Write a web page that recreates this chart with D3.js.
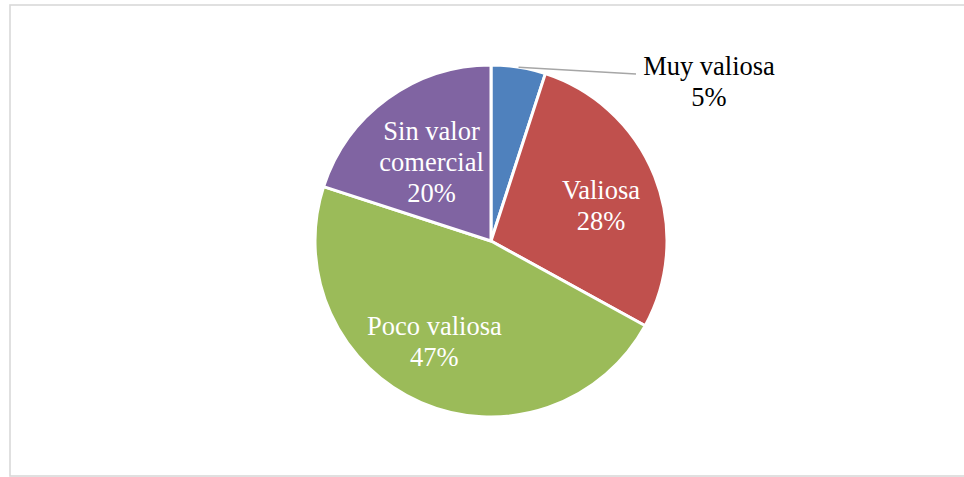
<!DOCTYPE html>
<html>
<head>
<meta charset="utf-8">
<script src="https://cdn.jsdelivr.net/npm/d3@7"></script>
<style>
  html, body { margin: 0; padding: 0; background: #ffffff; }
  svg { display: block; }
</style>
</head>
<body>
<svg id="chart" width="964" height="477"></svg>
<script>
// Share of items by commercial value
const categories = ["Muy valiosa", "Valiosa", "Poco valiosa", "Sin valor comercial"];
const percents = [5, 28, 47, 20];
const colors = ["#4F81BD", "#C0504D", "#9BBB59", "#8064A2"];
// label lines for each slice
const labelLines = [["Muy valiosa"], ["Valiosa"], ["Poco valiosa"], ["Sin valor", "comercial"]];

const svg = d3.select("#chart");
const cx = 491, cy = 241, R = 176;
const fontFamily = "'Liberation Serif', 'Times New Roman', serif";
const fontSize = 26.5;
const lineH = 31;

// chart area frame
svg.append("rect")
  .attr("x", 10).attr("y", 5)
  .attr("width", 980).attr("height", 471)
  .attr("fill", "#ffffff")
  .attr("stroke", "#d9d9d9")
  .attr("stroke-width", 1.6);

const data = categories.map((c, i) => ({ name: c, value: percents[i], color: colors[i], lines: labelLines[i] }));

const pie = d3.pie().sort(null).value(d => d.value);
const arcs = pie(data);
const arc = d3.arc().innerRadius(0).outerRadius(R);

const g = svg.append("g").attr("transform", `translate(${cx},${cy})`);

g.selectAll("path.slice")
  .data(arcs)
  .enter().append("path")
  .attr("class", "slice")
  .attr("d", arc)
  .attr("fill", d => d.data.color)
  .attr("stroke", "#ffffff")
  .attr("stroke-width", 3)
  .attr("stroke-linejoin", "round");

// inside-label placement: fraction of the radius and angular nudge (degrees) from the bisector
const labelRadius = [null, 0.657, 0.657, 0.56];
const labelNudge = [0, 3.6, 5.9, -1.1];

function drawLabel(x, y, lines, pct, fill) {
  const all = lines.concat([pct + "%"]);
  const t = svg.append("text")
    .attr("text-anchor", "middle")
    .attr("font-family", fontFamily)
    .attr("font-size", fontSize)
    .attr("fill", fill);
  const top = y - (all.length - 1) * lineH / 2;
  all.forEach((s, k) => {
    t.append("tspan").attr("x", x).attr("y", top + k * lineH + fontSize * 0.33).text(s);
  });
}

arcs.forEach((a, i) => {
  if (i === 0) return;
  const mid = (a.startAngle + a.endAngle) / 2 + labelNudge[i] * Math.PI / 180;
  const r = R * labelRadius[i];
  const x = cx + Math.sin(mid) * r;
  const y = cy - Math.cos(mid) * r;
  drawLabel(x, y, a.data.lines, a.data.value, "#ffffff");
});

// outside label with leader line for the small slice
{
  const a = arcs[0];
  const mid = (a.startAngle + a.endAngle) / 2;
  const sx = cx + Math.sin(mid) * R;
  const sy = cy - Math.cos(mid) * R;
  svg.append("polyline")
    .attr("points", `${sx},${sy} 636,74`)
    .attr("fill", "none")
    .attr("stroke", "#a6a6a6")
    .attr("stroke-width", 1.5);
  drawLabel(709, 81.5, a.data.lines, a.data.value, "#000000");
}
</script>
</body>
</html>
